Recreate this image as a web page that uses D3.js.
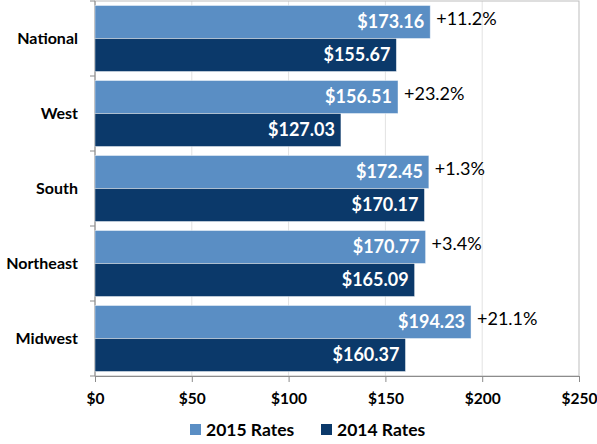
<!DOCTYPE html>
<html>
<head>
<meta charset="utf-8">
<script src="https://cdn.jsdelivr.net/npm/d3@7"></script>
<style>
  body { margin: 0; background: #fff; }
  svg { font-family: Lato, "Open Sans", sans-serif; }
</style>
</head>
<body>
<div id="chart"></div>
<script>
var width = 597,
    height = 444;

// data
var regions = ["National", "West", "South", "Northeast", "Midwest"];
var rates2015 = [173.16, 156.51, 172.45, 170.77, 194.23];
var rates2014 = [155.67, 127.03, 170.17, 165.09, 160.37];
var changes = ["+11.2%", "+23.2%", "+1.3%", "+3.4%", "+21.1%"];
var seriesNames = ["2015 Rates", "2014 Rates"];
var xTicks = [0, 50, 100, 150, 200, 250];

var colors = ["#5a8ec4", "#0b396a"];

// plot area (note: "top" is taken by window.top)
var plotLeft = 95, plotRight = 579, plotTop = 1, plotBottom = 376;

var svg = d3.select("#chart").append("svg")
    .attr("width", width)
    .attr("height", height);

var x = d3.scaleLinear()
    .domain([0, 250])
    .range([plotLeft, plotRight]);

var y = d3.scaleBand()
    .domain(regions)
    .range([plotTop, plotBottom])
    .paddingInner(0.12)
    .paddingOuter(0.06);

var ySub = d3.scaleBand()
    .domain(seriesNames)
    .range([0, y.bandwidth()]);

// gridlines
svg.append("g")
  .selectAll("line")
  .data(xTicks.slice(1, -1))
  .enter().append("line")
    .attr("x1", function(d) { return x(d); })
    .attr("x2", function(d) { return x(d); })
    .attr("y1", plotTop)
    .attr("y2", plotBottom)
    .attr("stroke", "#e2e2e2")
    .attr("stroke-width", 1);

// plot frame
svg.append("rect")
    .attr("x", plotLeft)
    .attr("y", plotTop)
    .attr("width", plotRight - plotLeft)
    .attr("height", plotBottom - plotTop)
    .attr("fill", "none")
    .attr("stroke", "#bdbdbd")
    .attr("stroke-width", 1);

// x axis
var xAxis = svg.append("g")
    .attr("transform", "translate(0," + plotBottom + ")")
    .call(d3.axisBottom(x)
      .tickValues(xTicks)
      .tickFormat(function(d) { return "$" + d; })
      .tickSize(6)
      .tickPadding(11));
xAxis.select(".domain").attr("stroke", "#8c8c8c");
xAxis.selectAll(".tick line").attr("stroke", "#8c8c8c");
xAxis.selectAll("text")
    .attr("font-family", "Lato, sans-serif")
    .attr("font-size", 15.5)
    .attr("font-weight", "bold")
    .attr("fill", "#000");

// category separators on the y axis
var sepY = regions.map(function(r) { return y(r) - y.step() * y.paddingInner() / 2; });
sepY.push(plotBottom);
svg.append("g")
  .selectAll("line")
  .data(sepY)
  .enter().append("line")
    .attr("x1", plotLeft - 5)
    .attr("x2", plotLeft)
    .attr("y1", function(d) { return d; })
    .attr("y2", function(d) { return d; })
    .attr("stroke", "#8c8c8c");
svg.append("line")
    .attr("x1", plotLeft).attr("x2", plotLeft)
    .attr("y1", plotTop).attr("y2", plotBottom)
    .attr("stroke", "#8c8c8c");

// category labels
svg.append("g")
  .selectAll("text")
  .data(regions)
  .enter().append("text")
    .attr("x", plotLeft - 17)
    .attr("y", function(d) { return y(d) + y.bandwidth() / 2; })
    .attr("dy", "0.35em")
    .attr("text-anchor", "end")
    .attr("font-size", 16)
    .attr("font-weight", "bold")
    .attr("fill", "#000")
    .text(function(d) { return d; });

// bars
var series = [rates2015, rates2014];
series.forEach(function(vals, si) {
  var g = svg.append("g");
  g.selectAll("rect")
    .data(vals)
    .enter().append("rect")
      .attr("x", x(0))
      .attr("y", function(d, i) { return y(regions[i]) + ySub(seriesNames[si]); })
      .attr("width", function(d) { return x(d) - x(0); })
      .attr("height", ySub.bandwidth())
      .attr("fill", colors[si])
      .attr("stroke", "rgba(255,255,255,0.55)")
      .attr("stroke-width", 0.8);

  g.selectAll("text")
    .data(vals)
    .enter().append("text")
      .attr("x", function(d) { return x(d) - 6; })
      .attr("y", function(d, i) { return y(regions[i]) + ySub(seriesNames[si]) + ySub.bandwidth() / 2; })
      .attr("dy", "0.36em")
      .attr("text-anchor", "end")
      .attr("font-size", 18)
      .attr("font-weight", "bold")
      .attr("fill", "#fff")
      .text(function(d) { return "$" + d.toFixed(2); });
});

// percent change labels
svg.append("g")
  .selectAll("text")
  .data(changes)
  .enter().append("text")
    .attr("x", function(d, i) { return x(rates2015[i]) + 6; })
    .attr("y", function(d, i) { return y(regions[i]) + ySub(seriesNames[0]) + ySub.bandwidth() / 2 - 3; })
    .attr("dy", "0.35em")
    .attr("font-size", 18)
    .attr("fill", "#000")
    .text(function(d) { return d; });

// legend
var legend = svg.append("g")
  .selectAll("g")
  .data(seriesNames)
  .enter().append("g")
    .attr("transform", function(d, i) { return "translate(" + (190 + i * 131) + ",424)"; });
legend.append("rect")
    .attr("width", 11)
    .attr("height", 11)
    .attr("fill", function(d, i) { return colors[i]; });
legend.append("text")
    .attr("x", 16)
    .attr("y", 6)
    .attr("dy", "0.36em")
    .attr("font-size", 17.5)
    .attr("font-weight", "bold")
    .attr("fill", "#000")
    .text(function(d) { return d; });
</script>
</body>
</html>
